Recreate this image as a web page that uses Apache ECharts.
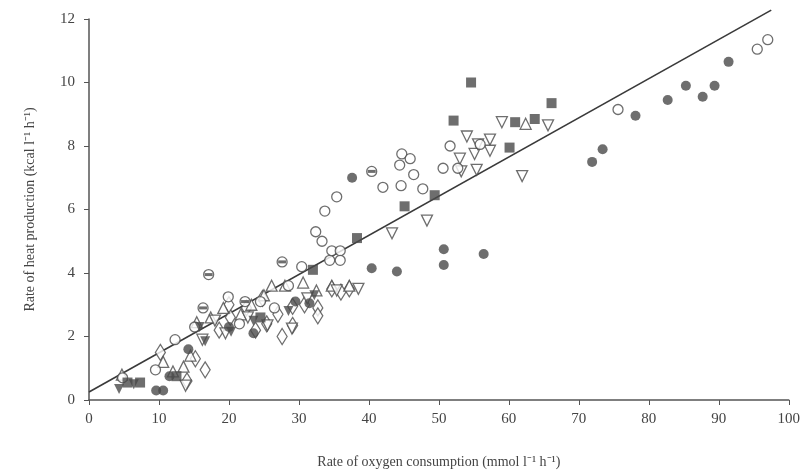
<!DOCTYPE html>
<html>
<head>
<meta charset="utf-8">
<script src="https://cdn.jsdelivr.net/npm/echarts@6/dist/echarts.min.js"></script>
<style>
  html, body { margin: 0; padding: 0; background: #fff; }
  #chart { width: 803px; height: 474px; }
</style>
</head>
<body>
<div id="chart"></div>
<script>
// 数据：每种符号一组 [x, y]
var filledCircle = [[9.6,0.3],[10.6,0.3],[11.5,0.75],[14.2,1.6],[20.0,2.3],[23.5,2.1],[29.5,3.1],[31.5,3.05],
  [37.6,7.0],[40.4,4.15],[44.0,4.05],[50.7,4.75],[50.7,4.25],[56.4,4.6],[71.9,7.5],[73.4,7.9],[78.1,8.95],
  [82.7,9.45],[85.3,9.9],[87.7,9.55],[89.4,9.9],[91.4,10.65]];
var openCircle = [[4.8,0.7],[9.5,0.95],[12.3,1.9],[15.1,2.3],[19.9,3.25],[24.5,3.1],[28.5,3.6],[30.4,4.2],
  [32.4,5.3],[33.3,5.0],[34.7,4.7],[35.9,4.7],[34.4,4.4],[35.9,4.4],[35.4,6.4],[33.7,5.95],[42.0,6.7],
  [44.6,6.75],[47.7,6.65],[44.7,7.75],[45.9,7.6],[44.4,7.4],[46.4,7.1],[50.6,7.3],[51.6,8.0],[52.7,7.3],
  [55.9,8.05],[75.6,9.15],[95.5,11.05],[97.0,11.35],[26.5,2.9],[21.5,2.4]];
var bandCircle = [[17.1,3.95],[27.6,4.35],[40.4,7.2],[16.3,2.9],[22.3,3.1]];
var filledSquare = [[5.5,0.55],[7.3,0.55],[12.5,0.75],[24.5,2.6],[32.0,4.1],[38.3,5.1],[45.1,6.1],[49.4,6.45],
  [54.6,10.0],[52.1,8.8],[60.1,7.95],[60.9,8.75],[63.7,8.85],[66.1,9.35]];
var openDownTri = [[13.8,0.45],[16.2,1.9],[19.5,2.1],[22.7,2.6],[25.5,2.35],[29.0,2.25],[35.4,3.45],[38.5,3.5],
  [43.3,5.25],[48.3,5.65],[53.0,7.6],[55.1,7.75],[55.6,8.05],[54.0,8.3],[57.3,8.2],[57.3,7.85],[55.4,7.25],
  [53.2,7.2],[59.0,8.75],[65.6,8.65],[61.9,7.05],[31.2,3.2],[18.0,2.5]];
var openUpTri = [[4.7,0.8],[10.6,1.2],[13.5,1.05],[15.4,2.45],[17.4,2.6],[21.7,2.7],[23.2,3.0],[26.1,3.6],
  [28.0,3.6],[30.6,3.7],[34.7,3.6],[37.2,3.6],[62.4,8.7],[14.5,1.4],[12.0,0.9],[19.2,2.9],[25.0,3.3],[32.5,3.45]];
var openDiamond = [[10.2,1.5],[14.0,0.6],[16.6,0.95],[15.2,1.3],[18.6,2.2],[20.2,2.6],[22.5,2.9],[24.8,3.2],
  [25.4,2.4],[27.0,2.7],[29.1,2.35],[29.1,2.95],[32.7,2.9],[32.7,2.65],[34.7,3.5],[37.2,3.5],[36.0,3.4],
  [20.0,3.0],[27.6,2.0],[23.8,2.2],[30.8,3.0]];
var filledDownTri = [[4.3,0.35],[6.4,0.5],[15.8,2.3],[16.6,1.85],[20.3,2.15],[23.5,2.5],[32.2,3.3],[28.5,2.8]];
// 回归直线
var lineX = [0, 97.5];
var lineY = [0.25, 12.28];

var xTicks = [0, 100, 10];   // min, max, interval
var yTicks = [0, 12, 2];

var ink = "#4a4a4a";
var font = "Liberation Serif";

function openStyle() {
    return { color: "#fff", borderColor: ink, borderWidth: 1.3 };
}

var myChart = echarts.init(document.getElementById("chart"));
var option = {
    animation: false,
    grid: { left: 89, right: 14, top: 19, bottom: 71 },
    xAxis: {
        type: "value",
        min: xTicks[0], max: xTicks[1], interval: xTicks[2],
        name: "Rate of oxygen consumption (mmol l\u207B\u00B9 h\u207B\u00B9)",
        nameLocation: "middle",
        nameGap: 55,
        nameTextStyle: { fontFamily: font, fontSize: 14, color: "#444" },
        axisLine: { lineStyle: { color: "#555", width: 1.5 } },
        axisTick: { length: 5, lineStyle: { color: "#555" } },
        axisLabel: { fontFamily: font, fontSize: 15, color: "#444", margin: 12 },
        splitLine: { show: false }
    },
    yAxis: {
        type: "value",
        min: yTicks[0], max: yTicks[1], interval: yTicks[2],
        name: "Rate of heat production (kcal l\u207B\u00B9 h\u207B\u00B9)",
        nameLocation: "middle",
        nameGap: 52,
        nameTextStyle: { fontFamily: font, fontSize: 14, color: "#444" },
        axisLine: { show: true, lineStyle: { color: "#555", width: 1.5 } },
        axisTick: { show: true, length: 5, lineStyle: { color: "#555" } },
        axisLabel: { fontFamily: font, fontSize: 15, color: "#444", margin: 14 },
        splitLine: { show: false }
    },
    series: [
        {
            type: "line",
            data: lineX.map(function (x, i) { return [x, lineY[i]]; }),
            showSymbol: false,
            clip: false,
            lineStyle: { color: "#3a3a3a", width: 1.6 },
            z: 1
        },
        {
            type: "scatter", data: openDiamond, symbol: "diamond", symbolSize: [10, 16],
            itemStyle: openStyle()
        },
        {
            type: "scatter", data: openUpTri, symbol: "triangle", symbolSize: 11,
            itemStyle: openStyle()
        },
        {
            type: "scatter", data: openDownTri, symbol: "triangle", symbolRotate: 180, symbolSize: 11,
            itemStyle: openStyle()
        },
        {
            type: "scatter", data: openCircle, symbol: "circle", symbolSize: 10,
            itemStyle: openStyle()
        },
        {
            type: "scatter", data: bandCircle, symbol: "circle", symbolSize: 10,
            itemStyle: openStyle()
        },
        {
            // 圆中间的横线
            type: "scatter", data: bandCircle, symbol: "rect", symbolSize: [8, 3],
            itemStyle: { color: ink }
        },
        {
            type: "scatter", data: filledDownTri, symbol: "triangle", symbolRotate: 180, symbolSize: 10,
            itemStyle: { color: ink }
        },
        {
            type: "scatter", data: filledSquare, symbol: "rect", symbolSize: 10,
            itemStyle: { color: ink }
        },
        {
            type: "scatter", data: filledCircle, symbol: "circle", symbolSize: 10,
            itemStyle: { color: ink }
        }
    ]
};
myChart.setOption(option);
</script>
</body>
</html>
